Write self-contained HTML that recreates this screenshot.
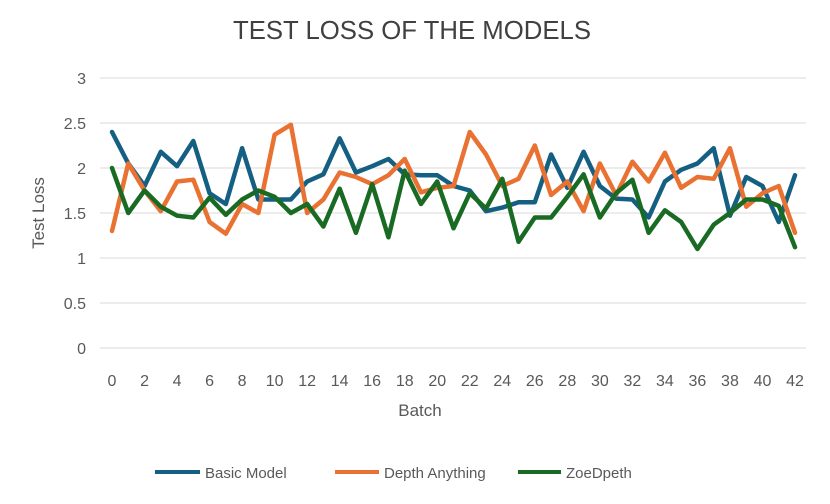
<!DOCTYPE html>
<html><head><meta charset="utf-8"><style>
html,body{margin:0;padding:0;background:#fff;width:830px;height:504px;overflow:hidden}
svg text{font-family:"Liberation Sans",sans-serif;fill:#595959}
</style></head><body>
<svg width="830" height="504">
<text x="412" y="39" text-anchor="middle" font-size="26" textLength="358" lengthAdjust="spacingAndGlyphs" style="fill:#404040">TEST LOSS OF THE MODELS</text>
<g id="grid"></g>
<g id="yt"></g>
<g id="xt"></g>
<g id="series"></g>
<text x="420" y="416" text-anchor="middle" font-size="17">Batch</text>
<text transform="translate(44,213) rotate(-90)" text-anchor="middle" font-size="17">Test Loss</text>
<g>
<g><line x1="155" y1="472" x2="200" y2="472" stroke="#156082" stroke-width="4"/><text x="205" y="478" font-size="15">Basic Model</text></g>
<g><line x1="335" y1="472" x2="379" y2="472" stroke="#E97132" stroke-width="4"/><text x="384" y="478" font-size="15">Depth Anything</text></g>
<g><line x1="518" y1="472" x2="561" y2="472" stroke="#196B24" stroke-width="4"/><text x="566" y="478" font-size="15">ZoeDpeth</text></g>
</g>
</svg>
<script>
const yTicks=["0","0.5","1","1.5","2","2.5","3"];
const yTickValues=[0,0.5,1,1.5,2,2.5,3];
const basicModel=[2.4,2.05,1.8,2.18,2.02,2.3,1.72,1.6,2.22,1.65,1.65,1.65,1.85,1.93,2.33,1.95,2.02,2.1,1.93,1.92,1.92,1.8,1.75,1.52,1.56,1.62,1.62,2.15,1.78,2.18,1.8,1.66,1.65,1.45,1.85,1.98,2.05,2.22,1.47,1.9,1.8,1.4,1.92];
const depthAnything=[1.3,2.05,1.75,1.52,1.85,1.87,1.4,1.27,1.6,1.5,2.37,2.48,1.5,1.65,1.95,1.9,1.82,1.92,2.1,1.73,1.78,1.8,2.4,2.15,1.8,1.88,2.25,1.7,1.85,1.52,2.05,1.7,2.07,1.85,2.17,1.78,1.9,1.88,2.22,1.57,1.72,1.8,1.28];
const zoeDpeth=[2.0,1.5,1.75,1.57,1.47,1.45,1.67,1.48,1.65,1.75,1.68,1.5,1.6,1.35,1.77,1.28,1.82,1.23,1.97,1.6,1.85,1.33,1.72,1.55,1.88,1.18,1.45,1.45,1.68,1.93,1.45,1.72,1.87,1.28,1.53,1.4,1.1,1.37,1.5,1.65,1.65,1.58,1.12];
const NS="http://www.w3.org/2000/svg";
const x=i=>112+i*(795-112)/42;
const y=v=>348-v*90;
function mk(t,a,p){const e=document.createElementNS(NS,t);for(const k in a)e.setAttribute(k,a[k]);p.appendChild(e);return e;}
const grid=document.getElementById('grid'),yt=document.getElementById('yt'),xt=document.getElementById('xt'),ser=document.getElementById('series');
yTickValues.forEach((v,i)=>{
 const l=mk('line',{x1:100,x2:806,y1:y(v),y2:y(v),stroke:'#d9d9d9','stroke-width':1},grid);
 
 
 const t=mk('text',{x:86,y:y(v)+6,'text-anchor':'end','font-size':16},yt);
 t.textContent=yTicks[i];
 
 
});
for(let i=0;i<basicModel.length;i+=2){
 const t=mk('text',{x:x(i),y:386,'text-anchor':'middle','font-size':16},xt);
 t.textContent=String(i);
 
 
}
[[basicModel,'#156082','basic-model-line'],[depthAnything,'#E97132','depth-anything-line'],[zoeDpeth,'#196B24','zoedpeth-line']].forEach(([d,c,n])=>{
 const p=mk('polyline',{points:d.map((v,i)=>x(i)+','+y(v)).join(' '),fill:'none',stroke:c,'stroke-width':4.5,'stroke-linejoin':'round','stroke-linecap':'round'},ser);
 
 
});
</script>
</body></html>
